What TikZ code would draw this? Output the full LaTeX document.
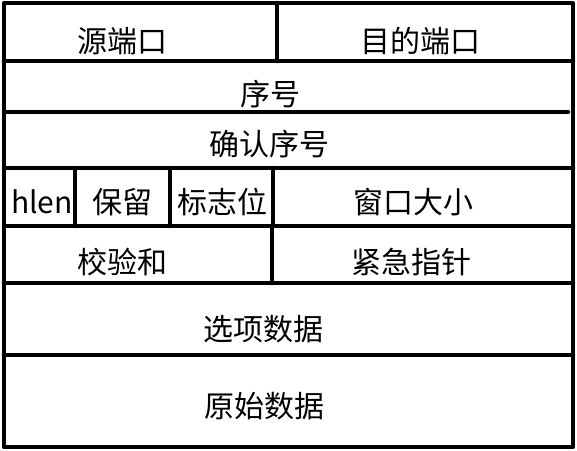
\documentclass[tikz,border=0pt]{standalone}
\usepackage{fontspec}
\setmainfont{Noto Sans CJK SC}
\begin{document}
\begin{tikzpicture}[x=1pt,y=-1pt,line cap=round,line join=round,
  cell/.style={line width=4.5pt},
  field/.style={font=\fontsize{30}{34}\selectfont,inner sep=0pt}]
  \useasboundingbox (0,0) rectangle (577,450);
  % 外框与行
  \draw[cell] (4,3) rectangle (573,447);
  \draw[cell] (4,61) -- (573,61);
  \draw[cell] (4,112) -- (568,112);
  \draw[cell] (4,168) -- (573,168);
  \draw[cell] (4,226) -- (573,226);
  \draw[cell] (4,283) -- (573,283);
  \draw[cell] (4,355) -- (573,355);
  % 列分隔
  \draw[cell] (277,3) -- (277,61);
  \draw[cell] (75,168) -- (75,226);
  \draw[cell] (170,168) -- (170,226);
  \draw[cell] (273,168) -- (273,226);
  \draw[cell] (272,226) -- (272,283);
  % 字段
  \node[field] (srcport) at (122,41) {源端口};
  \node[field] (dstport) at (420,41) {目的端口};
  \node[field] (seq) at (270,94) {序号};
  \node[field] (ack) at (269,144) {确认序号};
  \node[field] (hlen) at (42,202) {hlen};
  \node[field] (rsv) at (122,202) {保留};
  \node[field] (flags) at (222,202) {标志位};
  \node[field] (win) at (413,202) {窗口大小};
  \node[field] (csum) at (122,262) {校验和};
  \node[field] (urg) at (411,262) {紧急指针};
  \node[field] (opts) at (263,329) {选项数据};
  \node[field] (data) at (264,406) {原始数据};
\end{tikzpicture}
\end{document}
